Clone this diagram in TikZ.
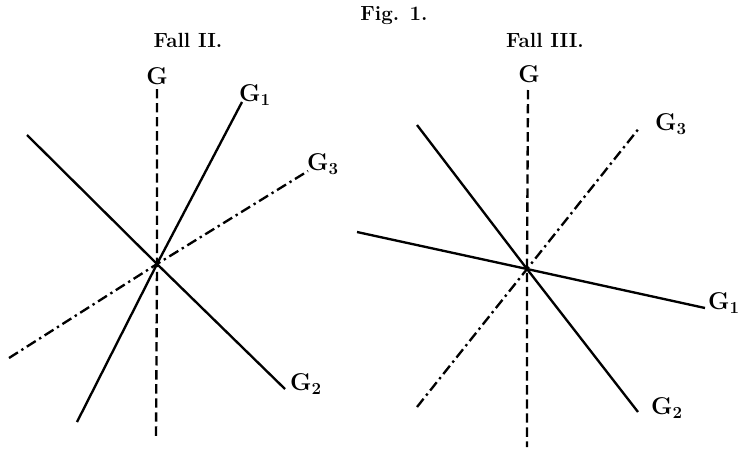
\documentclass[tikz,border=0pt]{standalone}
\usepackage{amsmath}
\usepackage{tikz}
\usetikzlibrary{calc, positioning}

\tikzset{
    gerade/.style={black, line width=2pt},
    achse/.style={black, line width=2pt, dash pattern=on 8pt off 4pt},
    strichpunkt/.style={black, line width=2pt, dash pattern=on 9pt off 3.5pt on 2pt off 3.5pt},
    glabel/.style={inner sep=0pt, font=\fontsize{20}{22}\selectfont},
    titel/.style={inner sep=0pt, font=\fontsize{17.5}{19}\selectfont\bfseries}
}
\newcommand{\Gname}[1]{$\mathbf{G}_{\mathbf{#1}}$}

\begin{document}
\begin{tikzpicture}[x=0.03cm, y=-0.03cm]
    \useasboundingbox (0,0) rectangle (741,448);

    % Überschriften
    \node[titel] (fig)   at (394, 16) {Fig. 1.};
    \node[titel] (fall2) at (188, 40) {Fall II.};
    \node[titel] (fall3) at (545, 40) {Fall III.};

    % 1. Fall II
    \coordinate (S2) at (157, 264);
    \coordinate (g2o) at (157, 89);  \coordinate (g2u) at (156, 440);
    \coordinate (a2o) at (242, 102); \coordinate (a2u) at (77, 422);
    \coordinate (b2o) at (27, 135);  \coordinate (b2u) at (285, 389);
    \coordinate (c2o) at (308, 171); \coordinate (c2u) at (9, 358);

    \draw[achse]      (g2o) -- (S2) -- (g2u);
    \draw[gerade]     (a2u) -- (S2) -- (a2o);
    \draw[gerade]     (b2o) -- (S2) -- (b2u);
    \draw[strichpunkt] (c2u) -- (S2) -- (c2o);

    \node[glabel] (lg2) at (157, 76)  {$\mathbf{G}$};
    \node[glabel] (la2) at (255, 95)  {\Gname{1}};
    \node[glabel] (lc2) at (323, 164) {\Gname{3}};
    \node[glabel] (lb2) at (306, 384) {\Gname{2}};

    % 2. Fall III
    \coordinate (S3) at (527, 269);
    \coordinate (g3o) at (528, 90);  \coordinate (g3u) at (527, 447);
    \coordinate (a3l) at (357, 232); \coordinate (a3r) at (705, 308);
    \coordinate (b3o) at (417, 125); \coordinate (b3u) at (638, 412);
    \coordinate (c3o) at (640, 127); \coordinate (c3u) at (417, 407);

    \draw[achse]      (g3o) -- (S3) -- (g3u);
    \draw[gerade]     (a3l) -- (S3) -- (a3r);
    \draw[gerade]     (b3o) -- (S3) -- (b3u);
    \draw[strichpunkt] (c3u) -- (S3) -- (c3o);

    \node[glabel] (lg3) at (529, 74)  {$\mathbf{G}$};
    \node[glabel, anchor=east] (la3) at (740, 303) {\Gname{1}};
    \node[glabel] (lc3) at (671, 124) {\Gname{3}};
    \node[glabel] (lb3) at (667, 408) {\Gname{2}};

\end{tikzpicture}
\end{document}
